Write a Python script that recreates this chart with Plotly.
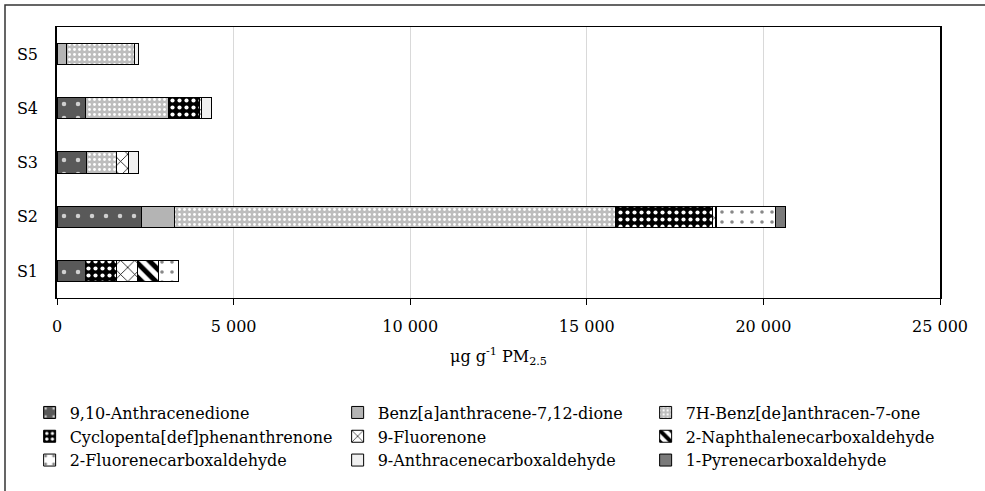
import plotly.graph_objects as go

samples = ["S1", "S2", "S3", "S4", "S5"]

anthracenedione = [800, 2400, 840, 800, None]
benz_a_dione = [None, 920, None, None, 255]
benz_de_one = [None, 12500, 850, 2360, 1950]
cyclopenta = [880, 2750, None, 880, None]
fluorenone = [595, 60, 330, 40, None]
naphthalene_cho = [595, 50, None, None, None]
fluorene_cho = [570, 1670, None, None, None]
anthracene_cho = [None, None, 300, 290, 90]
pyrene_cho = [None, 280, None, None, None]

series_names = [
    "9,10-Anthracenedione",
    "Benz[a]anthracene-7,12-dione",
    "7H-Benz[de]anthracen-7-one",
    "Cyclopenta[def]phenanthrenone",
    "9-Fluorenone",
    "2-Naphthalenecarboxaldehyde",
    "2-Fluorenecarboxaldehyde",
    "9-Anthracenecarboxaldehyde",
    "1-Pyrenecarboxaldehyde",
]
series_values = [anthracenedione, benz_a_dione, benz_de_one, cyclopenta, fluorenone,
                 naphthalene_cho, fluorene_cho, anthracene_cho, pyrene_cho]

x_tickvals = [0, 5000, 10000, 15000, 20000, 25000]
x_ticktext = ["0", "5 000", "10 000", "15 000", "20 000", "25 000"]

styles = [
    dict(color="#595959", pattern=dict(shape=".", bgcolor="#595959", fgcolor="#d0d0d0", size=14, solidity=0.08, fillmode="replace")),
    dict(color="#b4b4b4"),
    dict(color="#bdbdbd", pattern=dict(shape=".", bgcolor="#bdbdbd", fgcolor="#ffffff", size=5, solidity=0.25, fillmode="replace")),
    dict(color="#000000", pattern=dict(shape=".", bgcolor="#000000", fgcolor="#ffffff", size=7, solidity=0.28, fillmode="replace")),
    dict(color="#ffffff", pattern=dict(shape="x", bgcolor="#ffffff", fgcolor="#000000", size=10, solidity=0.15, fillmode="replace")),
    dict(color="#ffffff", pattern=dict(shape="\\", bgcolor="#ffffff", fgcolor="#000000", size=10, solidity=0.5, fillmode="replace")),
    dict(color="#ffffff", pattern=dict(shape=".", bgcolor="#ffffff", fgcolor="#888888", size=10, solidity=0.1, fillmode="replace")),
    dict(color="#f0f0f0"),
    dict(color="#7a7a7a"),
]

FONT = "DejaVu Serif, serif"

fig = go.Figure()
for name, vals, st in zip(series_names, series_values, styles):
    marker = dict(st)
    marker["line"] = dict(color="#000000", width=1)
    fig.add_trace(go.Bar(
        y=samples, x=vals, name=name, orientation="h", marker=marker,
    ))

fig.update_layout(
    barmode="stack",
    bargap=0.61,
    width=985, height=491,
    margin=dict(l=57, r=45, t=27, b=193),
    paper_bgcolor="white",
    plot_bgcolor="white",
    font=dict(family=FONT, size=16, color="#000000"),
    showlegend=True,
    legend=dict(
        orientation="h",
        x=-0.031, xanchor="left",
        y=-0.36, yanchor="top",
        entrywidth=263, entrywidthmode="pixels",
        font=dict(family=FONT, size=16),
        itemwidth=30,
        traceorder="normal",
        bgcolor="rgba(0,0,0,0)",
    ),
    xaxis=dict(
        range=[0, 25000],
        tickvals=x_tickvals, ticktext=x_ticktext,
        showgrid=True, gridcolor="#d9d9d9", gridwidth=1,
        showline=True, linecolor="#000000", linewidth=1, mirror=True,
        ticks="outside", ticklen=6, tickcolor="#000000",
        ticklabelstandoff=8,
        zeroline=False,
        title=dict(text="μg g<sup>-1</sup> PM<sub>2.5</sub>", standoff=15,
                   font=dict(family=FONT, size=16)),
    ),
    yaxis=dict(
        showline=True, linecolor="#000000", linewidth=1.5, mirror=True,
        showgrid=False, ticks="", ticklabelstandoff=14,
    ),
    shapes=[dict(
        type="rect", xref="paper", yref="paper",
        x0=(5 - 57) / 883, x1=(995 - 57) / 883,
        y0=-(500 - 298) / 271, y1=1 + (27 - 5) / 271,
        line=dict(color="#333333", width=1.5), fillcolor="rgba(0,0,0,0)",
        layer="below",
    )],
)

fig.write_html("out.html", config={"displayModeBar": False},
               post_script="document.body.style.margin='0px';")
